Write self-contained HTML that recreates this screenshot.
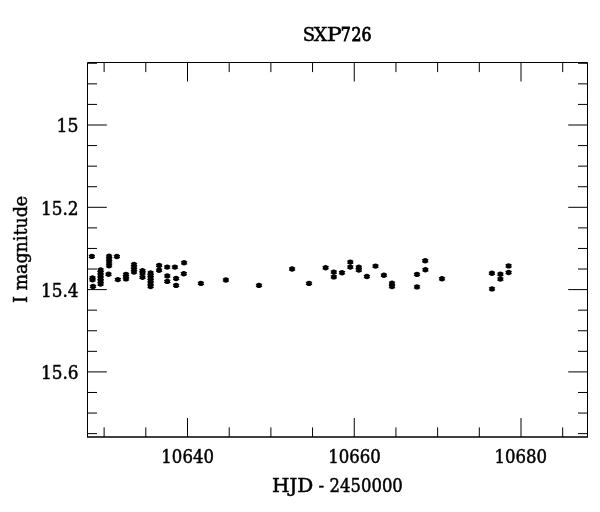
<!DOCTYPE html>
<html><head><meta charset="utf-8"><title>SXP726</title>
<style>html,body{margin:0;padding:0;background:#fff;}svg{display:block;will-change:transform;}</style>
</head><body>
<svg width="600" height="512" viewBox="0 0 600 512">
<rect width="600" height="512" fill="#fff"/>
<path d="M87.5 437.0V62.5H587.5V437.0" fill="none" stroke="#000" stroke-width="1"/>
<path d="M87.0 436.95H588.0" fill="none" stroke="#000" stroke-width="1.45"/>
<path d="M104.12 437.0V427.4M104.12 62.5V72.1M145.81 437.0V427.4M145.81 62.5V72.1M187.50 437.0V418.0M187.50 62.5V81.5M229.19 437.0V427.4M229.19 62.5V72.1M270.88 437.0V427.4M270.88 62.5V72.1M312.56 437.0V427.4M312.56 62.5V72.1M354.25 437.0V418.0M354.25 62.5V81.5M395.94 437.0V427.4M395.94 62.5V72.1M437.62 437.0V427.4M437.62 62.5V72.1M479.31 437.0V427.4M479.31 62.5V72.1M521.00 437.0V418.0M521.00 62.5V81.5M562.69 437.0V427.4M562.69 62.5V72.1M87.5 63.27H97.0M587.5 63.27H578.0M87.5 83.85H97.0M587.5 83.85H578.0M87.5 104.42H97.0M587.5 104.42H578.0M87.5 125.00H106.8M587.5 125.00H568.2M87.5 145.58H97.0M587.5 145.58H578.0M87.5 166.15H97.0M587.5 166.15H578.0M87.5 186.73H97.0M587.5 186.73H578.0M87.5 207.30H106.8M587.5 207.30H568.2M87.5 227.88H97.0M587.5 227.88H578.0M87.5 248.45H97.0M587.5 248.45H578.0M87.5 269.02H97.0M587.5 269.02H578.0M87.5 289.60H106.8M587.5 289.60H568.2M87.5 310.17H97.0M587.5 310.17H578.0M87.5 330.75H97.0M587.5 330.75H578.0M87.5 351.33H97.0M587.5 351.33H578.0M87.5 371.90H106.8M587.5 371.90H568.2M87.5 392.48H97.0M587.5 392.48H578.0M87.5 413.05H97.0M587.5 413.05H578.0M87.5 433.62H97.0M587.5 433.62H578.0" stroke="#000" stroke-width="1" fill="none"/>
<g fill="#000"><circle cx="91.85" cy="256.40" r="2.7"/><rect x="88.70" y="254.80" width="6.3" height="1.0"/><rect x="88.70" y="257.00" width="6.3" height="1.0"/><circle cx="93.00" cy="286.50" r="2.7"/><rect x="89.85" y="284.90" width="6.3" height="1.0"/><rect x="89.85" y="287.10" width="6.3" height="1.0"/><circle cx="108.50" cy="274.30" r="2.7"/><rect x="105.35" y="272.70" width="6.3" height="1.0"/><rect x="105.35" y="274.90" width="6.3" height="1.0"/><circle cx="116.90" cy="256.50" r="2.7"/><rect x="113.75" y="254.90" width="6.3" height="1.0"/><rect x="113.75" y="257.10" width="6.3" height="1.0"/><circle cx="117.80" cy="279.60" r="2.7"/><rect x="114.65" y="278.00" width="6.3" height="1.0"/><rect x="114.65" y="280.20" width="6.3" height="1.0"/><circle cx="167.20" cy="267.10" r="2.7"/><rect x="164.05" y="265.50" width="6.3" height="1.0"/><rect x="164.05" y="267.70" width="6.3" height="1.0"/><circle cx="174.90" cy="267.10" r="2.7"/><rect x="171.75" y="265.50" width="6.3" height="1.0"/><rect x="171.75" y="267.70" width="6.3" height="1.0"/><circle cx="176.10" cy="278.50" r="2.7"/><rect x="172.95" y="276.90" width="6.3" height="1.0"/><rect x="172.95" y="279.10" width="6.3" height="1.0"/><circle cx="176.10" cy="285.40" r="2.7"/><rect x="172.95" y="283.80" width="6.3" height="1.0"/><rect x="172.95" y="286.00" width="6.3" height="1.0"/><circle cx="184.10" cy="262.80" r="2.7"/><rect x="180.95" y="261.20" width="6.3" height="1.0"/><rect x="180.95" y="263.40" width="6.3" height="1.0"/><circle cx="183.80" cy="273.70" r="2.7"/><rect x="180.65" y="272.10" width="6.3" height="1.0"/><rect x="180.65" y="274.30" width="6.3" height="1.0"/><circle cx="200.90" cy="283.40" r="2.7"/><rect x="197.75" y="281.80" width="6.3" height="1.0"/><rect x="197.75" y="284.00" width="6.3" height="1.0"/><circle cx="225.90" cy="280.00" r="2.7"/><rect x="222.75" y="278.40" width="6.3" height="1.0"/><rect x="222.75" y="280.60" width="6.3" height="1.0"/><circle cx="259.00" cy="285.40" r="2.7"/><rect x="255.85" y="283.80" width="6.3" height="1.0"/><rect x="255.85" y="286.00" width="6.3" height="1.0"/><circle cx="292.10" cy="269.00" r="2.7"/><rect x="288.95" y="267.40" width="6.3" height="1.0"/><rect x="288.95" y="269.60" width="6.3" height="1.0"/><circle cx="309.00" cy="283.40" r="2.7"/><rect x="305.85" y="281.80" width="6.3" height="1.0"/><rect x="305.85" y="284.00" width="6.3" height="1.0"/><circle cx="325.60" cy="267.70" r="2.7"/><rect x="322.45" y="266.10" width="6.3" height="1.0"/><rect x="322.45" y="268.30" width="6.3" height="1.0"/><circle cx="342.00" cy="272.70" r="2.7"/><rect x="338.85" y="271.10" width="6.3" height="1.0"/><rect x="338.85" y="273.30" width="6.3" height="1.0"/><circle cx="366.90" cy="276.50" r="2.7"/><rect x="363.75" y="274.90" width="6.3" height="1.0"/><rect x="363.75" y="277.10" width="6.3" height="1.0"/><circle cx="375.50" cy="266.10" r="2.7"/><rect x="372.35" y="264.50" width="6.3" height="1.0"/><rect x="372.35" y="266.70" width="6.3" height="1.0"/><circle cx="383.90" cy="275.30" r="2.7"/><rect x="380.75" y="273.70" width="6.3" height="1.0"/><rect x="380.75" y="275.90" width="6.3" height="1.0"/><circle cx="417.00" cy="274.40" r="2.7"/><rect x="413.85" y="272.80" width="6.3" height="1.0"/><rect x="413.85" y="275.00" width="6.3" height="1.0"/><circle cx="417.00" cy="286.90" r="2.7"/><rect x="413.85" y="285.30" width="6.3" height="1.0"/><rect x="413.85" y="287.50" width="6.3" height="1.0"/><circle cx="425.20" cy="260.80" r="2.7"/><rect x="422.05" y="259.20" width="6.3" height="1.0"/><rect x="422.05" y="261.40" width="6.3" height="1.0"/><circle cx="425.40" cy="269.80" r="2.7"/><rect x="422.25" y="268.20" width="6.3" height="1.0"/><rect x="422.25" y="270.40" width="6.3" height="1.0"/><circle cx="442.00" cy="278.80" r="2.7"/><rect x="438.85" y="277.20" width="6.3" height="1.0"/><rect x="438.85" y="279.40" width="6.3" height="1.0"/><circle cx="491.90" cy="273.30" r="2.7"/><rect x="488.75" y="271.70" width="6.3" height="1.0"/><rect x="488.75" y="273.90" width="6.3" height="1.0"/><circle cx="492.00" cy="288.90" r="2.7"/><rect x="488.85" y="287.30" width="6.3" height="1.0"/><rect x="488.85" y="289.50" width="6.3" height="1.0"/><circle cx="508.60" cy="265.90" r="2.7"/><rect x="505.45" y="264.30" width="6.3" height="1.0"/><rect x="505.45" y="266.50" width="6.3" height="1.0"/><circle cx="508.60" cy="272.50" r="2.7"/><rect x="505.45" y="270.90" width="6.3" height="1.0"/><rect x="505.45" y="273.10" width="6.3" height="1.0"/><circle cx="92.50" cy="278.00" r="2.7"/><rect x="89.35" y="276.40" width="6.3" height="1.0"/><rect x="89.35" y="278.60" width="6.3" height="1.0"/><circle cx="92.50" cy="279.80" r="2.7"/><rect x="89.35" y="278.20" width="6.3" height="1.0"/><rect x="89.35" y="280.40" width="6.3" height="1.0"/><circle cx="100.60" cy="270.00" r="2.7"/><rect x="97.45" y="268.40" width="6.3" height="1.0"/><rect x="97.45" y="270.60" width="6.3" height="1.0"/><circle cx="100.60" cy="272.50" r="2.7"/><rect x="97.45" y="270.90" width="6.3" height="1.0"/><rect x="97.45" y="273.10" width="6.3" height="1.0"/><circle cx="100.60" cy="275.50" r="2.7"/><rect x="97.45" y="273.90" width="6.3" height="1.0"/><rect x="97.45" y="276.10" width="6.3" height="1.0"/><circle cx="100.60" cy="278.40" r="2.7"/><rect x="97.45" y="276.80" width="6.3" height="1.0"/><rect x="97.45" y="279.00" width="6.3" height="1.0"/><circle cx="100.60" cy="281.30" r="2.7"/><rect x="97.45" y="279.70" width="6.3" height="1.0"/><rect x="97.45" y="281.90" width="6.3" height="1.0"/><circle cx="100.60" cy="284.00" r="2.7"/><rect x="97.45" y="282.40" width="6.3" height="1.0"/><rect x="97.45" y="284.60" width="6.3" height="1.0"/><circle cx="109.10" cy="256.30" r="2.7"/><rect x="105.95" y="254.70" width="6.3" height="1.0"/><rect x="105.95" y="256.90" width="6.3" height="1.0"/><circle cx="109.10" cy="259.00" r="2.7"/><rect x="105.95" y="257.40" width="6.3" height="1.0"/><rect x="105.95" y="259.60" width="6.3" height="1.0"/><circle cx="109.10" cy="262.00" r="2.7"/><rect x="105.95" y="260.40" width="6.3" height="1.0"/><rect x="105.95" y="262.60" width="6.3" height="1.0"/><circle cx="109.10" cy="265.70" r="2.7"/><rect x="105.95" y="264.10" width="6.3" height="1.0"/><rect x="105.95" y="266.30" width="6.3" height="1.0"/><circle cx="126.00" cy="274.40" r="2.7"/><rect x="122.85" y="272.80" width="6.3" height="1.0"/><rect x="122.85" y="275.00" width="6.3" height="1.0"/><circle cx="126.00" cy="276.80" r="2.7"/><rect x="122.85" y="275.20" width="6.3" height="1.0"/><rect x="122.85" y="277.40" width="6.3" height="1.0"/><circle cx="126.00" cy="278.90" r="2.7"/><rect x="122.85" y="277.30" width="6.3" height="1.0"/><rect x="122.85" y="279.50" width="6.3" height="1.0"/><circle cx="134.00" cy="264.50" r="2.7"/><rect x="130.85" y="262.90" width="6.3" height="1.0"/><rect x="130.85" y="265.10" width="6.3" height="1.0"/><circle cx="134.00" cy="267.00" r="2.7"/><rect x="130.85" y="265.40" width="6.3" height="1.0"/><rect x="130.85" y="267.60" width="6.3" height="1.0"/><circle cx="134.00" cy="269.50" r="2.7"/><rect x="130.85" y="267.90" width="6.3" height="1.0"/><rect x="130.85" y="270.10" width="6.3" height="1.0"/><circle cx="134.00" cy="272.00" r="2.7"/><rect x="130.85" y="270.40" width="6.3" height="1.0"/><rect x="130.85" y="272.60" width="6.3" height="1.0"/><circle cx="142.50" cy="270.80" r="2.7"/><rect x="139.35" y="269.20" width="6.3" height="1.0"/><rect x="139.35" y="271.40" width="6.3" height="1.0"/><circle cx="142.50" cy="273.00" r="2.7"/><rect x="139.35" y="271.40" width="6.3" height="1.0"/><rect x="139.35" y="273.60" width="6.3" height="1.0"/><circle cx="142.50" cy="277.30" r="2.7"/><rect x="139.35" y="275.70" width="6.3" height="1.0"/><rect x="139.35" y="277.90" width="6.3" height="1.0"/><circle cx="150.60" cy="273.00" r="2.7"/><rect x="147.45" y="271.40" width="6.3" height="1.0"/><rect x="147.45" y="273.60" width="6.3" height="1.0"/><circle cx="150.60" cy="275.50" r="2.7"/><rect x="147.45" y="273.90" width="6.3" height="1.0"/><rect x="147.45" y="276.10" width="6.3" height="1.0"/><circle cx="150.60" cy="278.00" r="2.7"/><rect x="147.45" y="276.40" width="6.3" height="1.0"/><rect x="147.45" y="278.60" width="6.3" height="1.0"/><circle cx="150.60" cy="280.70" r="2.7"/><rect x="147.45" y="279.10" width="6.3" height="1.0"/><rect x="147.45" y="281.30" width="6.3" height="1.0"/><circle cx="150.60" cy="283.30" r="2.7"/><rect x="147.45" y="281.70" width="6.3" height="1.0"/><rect x="147.45" y="283.90" width="6.3" height="1.0"/><circle cx="150.60" cy="286.50" r="2.7"/><rect x="147.45" y="284.90" width="6.3" height="1.0"/><rect x="147.45" y="287.10" width="6.3" height="1.0"/><circle cx="159.10" cy="265.40" r="2.7"/><rect x="155.95" y="263.80" width="6.3" height="1.0"/><rect x="155.95" y="266.00" width="6.3" height="1.0"/><circle cx="159.10" cy="270.20" r="2.7"/><rect x="155.95" y="268.60" width="6.3" height="1.0"/><rect x="155.95" y="270.80" width="6.3" height="1.0"/><circle cx="167.30" cy="275.90" r="2.7"/><rect x="164.15" y="274.30" width="6.3" height="1.0"/><rect x="164.15" y="276.50" width="6.3" height="1.0"/><circle cx="167.30" cy="281.40" r="2.7"/><rect x="164.15" y="279.80" width="6.3" height="1.0"/><rect x="164.15" y="282.00" width="6.3" height="1.0"/><circle cx="333.80" cy="272.10" r="2.7"/><rect x="330.65" y="270.50" width="6.3" height="1.0"/><rect x="330.65" y="272.70" width="6.3" height="1.0"/><circle cx="333.80" cy="276.90" r="2.7"/><rect x="330.65" y="275.30" width="6.3" height="1.0"/><rect x="330.65" y="277.50" width="6.3" height="1.0"/><circle cx="350.30" cy="262.10" r="2.7"/><rect x="347.15" y="260.50" width="6.3" height="1.0"/><rect x="347.15" y="262.70" width="6.3" height="1.0"/><circle cx="350.30" cy="267.10" r="2.7"/><rect x="347.15" y="265.50" width="6.3" height="1.0"/><rect x="347.15" y="267.70" width="6.3" height="1.0"/><circle cx="358.80" cy="267.30" r="2.7"/><rect x="355.65" y="265.70" width="6.3" height="1.0"/><rect x="355.65" y="267.90" width="6.3" height="1.0"/><circle cx="358.80" cy="270.10" r="2.7"/><rect x="355.65" y="268.50" width="6.3" height="1.0"/><rect x="355.65" y="270.70" width="6.3" height="1.0"/><circle cx="392.00" cy="283.20" r="2.7"/><rect x="388.85" y="281.60" width="6.3" height="1.0"/><rect x="388.85" y="283.80" width="6.3" height="1.0"/><circle cx="392.00" cy="286.60" r="2.7"/><rect x="388.85" y="285.00" width="6.3" height="1.0"/><rect x="388.85" y="287.20" width="6.3" height="1.0"/><circle cx="500.40" cy="274.20" r="2.7"/><rect x="497.25" y="272.60" width="6.3" height="1.0"/><rect x="497.25" y="274.80" width="6.3" height="1.0"/><circle cx="500.40" cy="279.10" r="2.7"/><rect x="497.25" y="277.50" width="6.3" height="1.0"/><rect x="497.25" y="279.70" width="6.3" height="1.0"/></g>
<g font-family='"DejaVu Serif Condensed", "DejaVu Serif", "Liberation Serif", serif' fill="#000" stroke="#000" stroke-width="0.45"><text y="40.60" font-size="19.00"><tspan x="302.70" textLength="12.30" lengthAdjust="spacingAndGlyphs">S</tspan><tspan x="313.80" textLength="13.50" lengthAdjust="spacingAndGlyphs">X</tspan><tspan x="326.80" textLength="15.00" lengthAdjust="spacingAndGlyphs">P</tspan><tspan x="340.80" textLength="10.00" lengthAdjust="spacingAndGlyphs" stroke-width="0.8">7</tspan><tspan x="351.60" textLength="10.00" lengthAdjust="spacingAndGlyphs" stroke-width="0.8">2</tspan><tspan x="361.60" textLength="10.00" lengthAdjust="spacingAndGlyphs" stroke-width="0.8">6</tspan></text><text x="187.65" y="463.20" font-size="17.80" text-anchor="middle" textLength="52.60" lengthAdjust="spacingAndGlyphs">10640</text><text x="354.60" y="463.20" font-size="17.80" text-anchor="middle" textLength="52.60" lengthAdjust="spacingAndGlyphs">10660</text><text x="520.80" y="463.20" font-size="17.80" text-anchor="middle" textLength="52.60" lengthAdjust="spacingAndGlyphs">10680</text><text y="492.00" font-size="18.60"><tspan x="271.90" textLength="41.50" lengthAdjust="spacingAndGlyphs">HJD</tspan> <tspan x="318.60" textLength="5.60" lengthAdjust="spacingAndGlyphs">-</tspan> <tspan x="329.60" textLength="73.20" lengthAdjust="spacingAndGlyphs">2450000</tspan></text><text x="78.60" y="132.20" font-size="17.70" text-anchor="end" textLength="22.00" lengthAdjust="spacingAndGlyphs">15</text><text x="78.60" y="214.50" font-size="17.70" text-anchor="end" textLength="37.60" lengthAdjust="spacingAndGlyphs">15.2</text><text x="78.60" y="296.80" font-size="17.70" text-anchor="end" textLength="37.60" lengthAdjust="spacingAndGlyphs">15.4</text><text x="78.60" y="379.10" font-size="17.70" text-anchor="end" textLength="37.60" lengthAdjust="spacingAndGlyphs">15.6</text><text transform="translate(26.60 249.40) rotate(-90)" font-size="18.60" text-anchor="middle" textLength="107.20" lengthAdjust="spacingAndGlyphs">I magnitude</text></g>
</svg>
</body></html>
